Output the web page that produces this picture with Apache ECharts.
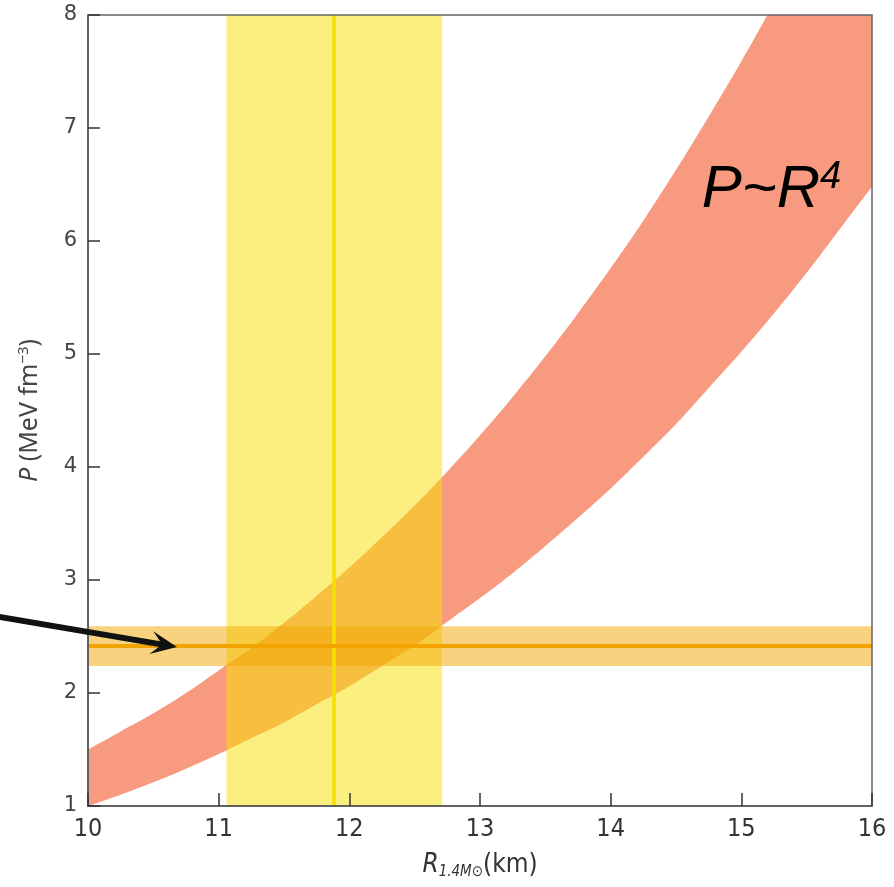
<!DOCTYPE html>
<html>
<head>
<meta charset="utf-8">
<script src="https://cdn.jsdelivr.net/npm/echarts@6/dist/echarts.min.js"></script>
<style>
  html, body { margin: 0; padding: 0; background: #fff; }
  #main { width: 894px; height: 887px; }
</style>
</head>
<body>
<div id="main"></div>
<script>
// R (km) samples and the edges of the P ~ R^4 band
var radiusKm = [10, 10.25, 10.5, 10.75, 11, 11.25, 11.5, 11.75, 12, 12.25, 12.5, 12.75, 13,
    13.25, 13.5, 13.75, 14, 14.25, 14.5, 14.75, 15, 15.25, 15.5, 15.75, 16];
var pLow = [1.00, 1.10, 1.21, 1.33, 1.46, 1.60, 1.74, 1.90, 2.06, 2.24, 2.42, 2.63, 2.84,
    3.06, 3.30, 3.55, 3.81, 4.09, 4.38, 4.70, 5.02, 5.36, 5.72, 6.10, 6.48];
var pHigh = [1.50, 1.66, 1.82, 2.00, 2.20, 2.40, 2.62, 2.86, 3.11, 3.38, 3.66, 3.96, 4.28,
    4.62, 4.98, 5.36, 5.76, 6.18, 6.63, 7.10, 7.59, 8.11, 8.66, 9.23, 9.83];

// radius constraint (vertical band) and pressure constraint (horizontal band)
var radiusBand = [11.06, 12.71];
var radiusCentre = 11.88;
var pressureBand = [2.24, 2.59];
var pressureCentre = 2.42;

// arrow from outside the frame to the pressure line: [R, P]
var arrowStart = [9.288, 2.68];
var arrowTip = [10.681, 2.407];
var labelPos = [15.23, 6.45];

var lowData = radiusKm.map(function (r, i) { return [r, pLow[i]]; });
var highData = radiusKm.map(function (r, i) { return [r, pHigh[i]]; });

var chart = echarts.init(document.getElementById('main'));

var narrow = "'Liberation Sans Narrow', 'DejaVu Sans Condensed', sans-serif";

var option = {
    animation: false,
    backgroundColor: '#fff',
    grid: {
        left: 88, right: 22, top: 15, bottom: 81, z: 10,
        show: true, borderColor: '#666', borderWidth: 1.5
    },
    xAxis: {
        type: 'value', min: 10, max: 16, interval: 1, z: 10,
        name: '{i|R}{sub|1.4M⊙}{n|(km)}',
        nameLocation: 'middle', nameGap: 44,
        nameTextStyle: {
            rich: {
                i: { fontFamily: narrow, fontStyle: 'italic', fontSize: 26, color: '#333', lineHeight: 30, verticalAlign: 'middle' },
                sub: { fontFamily: narrow, fontStyle: 'italic', fontSize: 15, color: '#333', lineHeight: 14, verticalAlign: 'bottom' },
                n: { fontFamily: narrow, fontSize: 26, color: '#333', lineHeight: 30, verticalAlign: 'middle' }
            }
        },
        axisLine: { lineStyle: { color: '#555', width: 1.5 } },
        axisTick: { inside: true, length: 13, lineStyle: { color: '#333', width: 1.5 } },
        axisLabel: { fontFamily: narrow, fontSize: 25, color: '#333', margin: 11 },
        splitLine: { show: false }
    },
    yAxis: {
        type: 'value', min: 1, max: 8, interval: 1, z: 10,
        name: '{i|P}{n| (MeV fm}{sup|−3}{n|)}',
        nameLocation: 'middle', nameGap: 44,
        nameTextStyle: {
            rich: {
                i: { fontFamily: 'Noto Sans', fontStyle: 'italic', fontSize: 25, color: '#444', lineHeight: 28, verticalAlign: 'middle' },
                n: { fontFamily: 'Noto Sans', fontSize: 25, color: '#444', lineHeight: 28, verticalAlign: 'middle' },
                sup: { fontFamily: 'Noto Sans', fontSize: 15, color: '#444', lineHeight: 14, verticalAlign: 'top' }
            }
        },
        axisLine: { lineStyle: { color: '#555', width: 1.5 } },
        axisTick: { inside: true, length: 12, lineStyle: { color: '#333', width: 1.5 } },
        axisLabel: { fontFamily: 'DejaVu Sans', fontSize: 21, color: '#444', margin: 11 },
        splitLine: { show: false }
    },
    series: [
        {
            // red fill below the upper edge
            name: 'upper', type: 'line', smooth: 0.4,
            data: highData, symbol: 'none', z: 1,
            lineStyle: { width: 0, opacity: 0 },
            areaStyle: { color: '#F79A80', opacity: 1, origin: 'start' }
        },
        {
            // white below the lower edge, leaving the band
            name: 'lower', type: 'line', smooth: 0.4,
            data: lowData, symbol: 'none', z: 2,
            lineStyle: { width: 0, opacity: 0 },
            areaStyle: { color: '#fff', opacity: 1, origin: 'start' }
        },
        {
            name: 'radius', type: 'line', data: [], z: 3,
            markArea: {
                silent: true, z: 3,
                itemStyle: { color: 'rgba(247,226,0,0.5)' },
                data: [[{ xAxis: radiusBand[0] }, { xAxis: radiusBand[1] }]]
            },
            markLine: {
                silent: true, symbol: 'none', label: { show: false }, z: 5,
                lineStyle: { color: '#F6E000', width: 3.5, type: 'solid' },
                data: [{ xAxis: radiusCentre }]
            }
        },
        {
            name: 'pressure', type: 'line', data: [], z: 4,
            markArea: {
                silent: true, z: 4,
                itemStyle: { color: 'rgba(241,165,0,0.5)' },
                data: [[{ yAxis: pressureBand[0] }, { yAxis: pressureBand[1] }]]
            },
            markLine: {
                silent: true, symbol: 'none', label: { show: false }, z: 6,
                lineStyle: { color: '#F2A300', width: 4, type: 'solid' },
                data: [{ yAxis: pressureCentre }]
            }
        },
        {
            name: 'label', type: 'scatter', z: 11,
            data: [labelPos], symbolSize: 0,
            itemStyle: { color: '#000', opacity: 1 },
            label: {
                show: true, position: 'inside', color: '#000',
                textBorderWidth: 0, textShadowBlur: 0,
                formatter: '{a|P~R}{s|4}',
                rich: {
                    a: { fontFamily: 'Liberation Sans', fontStyle: 'italic', fontSize: 60, color: '#000', lineHeight: 64, textBorderWidth: 0 },
                    s: { fontFamily: 'Liberation Sans', fontStyle: 'italic', fontSize: 38, color: '#000', lineHeight: 38, verticalAlign: 'top', textBorderWidth: 0 }
                }
            }
        }
    ]
};

chart.setOption(option);

// arrow: positions come from the axes, head shape is drawn in pixels
var p0 = chart.convertToPixel({ gridIndex: 0 }, arrowStart);
var p1 = chart.convertToPixel({ gridIndex: 0 }, arrowTip);
var dx = p1[0] - p0[0], dy = p1[1] - p0[1];
var len = Math.sqrt(dx * dx + dy * dy);
var ux = dx / len, uy = dy / len;
var nx = -uy, ny = ux;
var headLen = 26, headHalf = 11.5, notch = 15;
var back = [p1[0] - ux * headLen, p1[1] - uy * headLen];
var mid = [p1[0] - ux * notch, p1[1] - uy * notch];

chart.setOption({
    graphic: [
        {
            type: 'polyline', z: 100,
            shape: { points: [p0, [mid[0] + ux * 2, mid[1] + uy * 2]] },
            style: { stroke: '#111', lineWidth: 6, fill: null }
        },
        {
            type: 'polygon', z: 100,
            shape: {
                points: [
                    p1,
                    [back[0] + nx * headHalf, back[1] + ny * headHalf],
                    mid,
                    [back[0] - nx * headHalf, back[1] - ny * headHalf]
                ]
            },
            style: { fill: '#111' }
        }
    ]
});
</script>
</body>
</html>
